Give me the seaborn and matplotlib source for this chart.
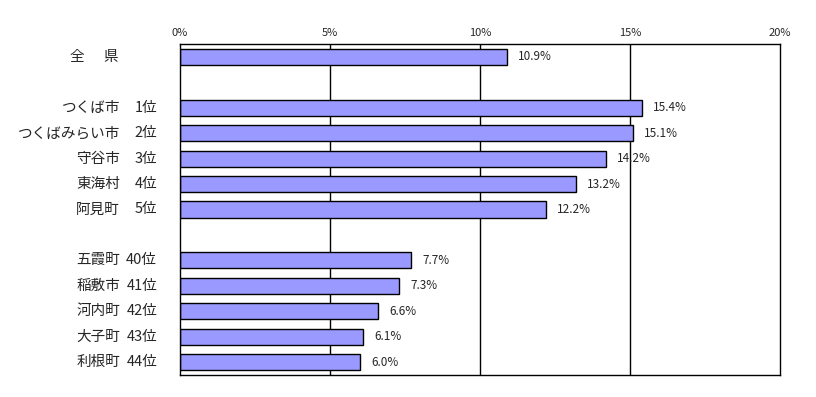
import matplotlib
matplotlib.use("Agg")
import matplotlib.pyplot as plt
import matplotlib.transforms as mtransforms
import seaborn as sns
import pandas as pd

# データ
names = ["全県", "つくば市", "つくばみらい市", "守谷市", "東海村", "阿見町",
         "五霞町", "稲敷市", "河内町", "大子町", "利根町"]
ranks = ["", "1位", "2位", "3位", "4位", "5位",
         "40位", "41位", "42位", "43位", "44位"]
values = [10.9, 15.4, 15.1, 14.2, 13.2, 12.2, 7.7, 7.3, 6.6, 6.1, 6.0]
xticks = [0, 5, 10, 15, 20]

keys = [n + r for n, r in zip(names, ranks)]
order = [keys[0], "_gap1"] + keys[1:6] + ["_gap2"] + keys[6:]

df = pd.DataFrame({"key": keys, "value": values})

sns.set_style("white")
plt.rcParams['font.family'] = ['Noto Sans CJK JP', 'DejaVu Sans']

fig = plt.figure(figsize=(8.16, 3.97), dpi=100)
ax = fig.add_axes([180 / 816, 1 - 375 / 397, 600 / 816, 331 / 397])

sns.barplot(data=df, x="value", y="key", order=order, orient="h",
            color="#9999FF", saturation=1, edgecolor="black", linewidth=1,
            width=0.63, ax=ax)

ax.set_xlim(0, 20)
ax.set_ylim(len(order) - 0.5, -0.5)
ax.set_xticks(xticks)
ax.set_xticklabels([f"{t}%" for t in xticks], fontsize=8)
ax.xaxis.tick_top()
ax.tick_params(axis="x", length=0, pad=4)
ax.set_xlabel("")
ax.set_ylabel("")
ax.set_yticks([])
for t in xticks[1:-1]:
    ax.axvline(t, color="black", linewidth=1, zorder=0)
for s in ["top", "bottom", "left", "right"]:
    ax.spines[s].set_visible(True)
    ax.spines[s].set_color("black")
    ax.spines[s].set_linewidth(1)

for c in ax.containers:
    ax.bar_label(c, fmt="%.1f%%", padding=8, fontsize=8.5)

# 左側のラベル
trans = mtransforms.blended_transform_factory(ax.transAxes, ax.transData)
for k, n, r in zip(keys, names, ranks):
    y = order.index(k)
    if r:
        ax.text(-0.1, y, n, transform=trans, ha="right", va="center", fontsize=10.5)
        ax.text(-0.038, y, r, transform=trans, ha="right", va="center", fontsize=10.5)
    else:
        # 「全　県」は文字間を広げて表示
        ax.text(-0.172, y, n[0], transform=trans, ha="center", va="center", fontsize=10.5)
        ax.text(-0.115, y, n[1], transform=trans, ha="center", va="center", fontsize=10.5)

fig.savefig("out.png", dpi=100)
